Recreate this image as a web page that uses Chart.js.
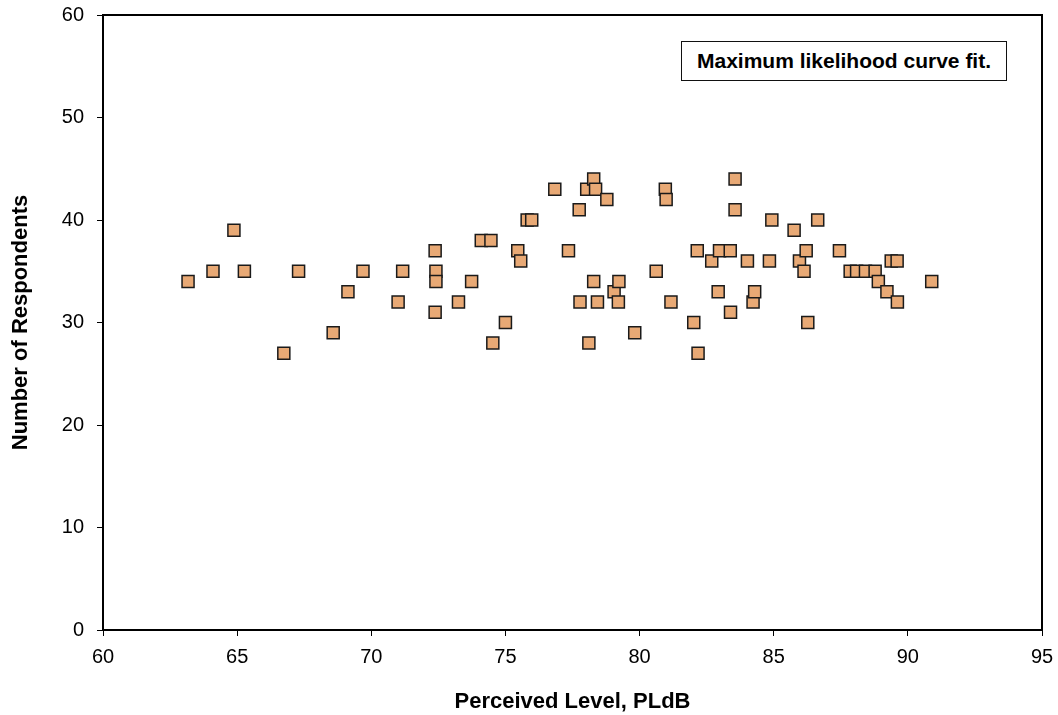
<!DOCTYPE html>
<html>
<head>
<meta charset="utf-8">
<script src="https://cdn.jsdelivr.net/npm/chart.js@4.4.1/dist/chart.umd.min.js"></script>
<style>
  html, body { margin: 0; padding: 0; background: #fff; }
  #wrap { position: relative; width: 1058px; height: 715px; }
  #nota {
    position: absolute; left: 681px; top: 41px; width: 324px; height: 38px;
    border: 1.5px solid #111; background: #fff;
    font: bold 21px "Liberation Sans", Arial, sans-serif; color: #000;
    display: flex; align-items: center; justify-content: center;
  }
</style>
</head>
<body>
<div id="wrap">
  <canvas id="grafica" width="1058" height="715"></canvas>
  <div id="nota">Maximum likelihood curve fit.</div>
</div>
<script>
// nivel percibido (PLdB) y numero de encuestados por punto
var nivelPLdB = [
  63.17, 64.10, 64.88, 65.27, 66.74, 67.29, 68.58, 69.13, 69.69, 71.00,
  71.17, 72.38, 72.41, 72.41, 72.38, 73.25, 73.74, 74.10, 74.46, 74.53,
  75.00, 75.46, 75.57, 75.81, 75.98, 76.84, 77.35, 77.75, 77.78, 78.03,
  78.11, 78.29, 78.36, 78.29, 78.43, 78.78, 79.05, 79.23, 79.21, 79.82,
  80.62, 80.96, 80.99, 81.17, 82.02, 82.15, 82.18, 82.69, 82.93, 82.98,
  83.38, 83.39, 83.56, 83.56, 84.02, 84.23, 84.29, 84.84, 84.93, 85.76,
  85.96, 86.13, 86.21, 86.27, 86.64, 87.45, 87.85, 88.09, 88.42, 88.78,
  88.90, 89.22, 89.38, 89.60, 89.61, 90.89
];
var encuestados = [
  34, 35, 39, 35, 27, 35, 29, 33, 35, 32,
  35, 37, 35, 34, 31, 32, 34, 38, 38, 28,
  30, 37, 36, 40, 40, 43, 37, 41, 32, 43,
  28, 44, 43, 34, 32, 42, 33, 34, 32, 29,
  35, 43, 42, 32, 30, 37, 27, 36, 33, 37,
  37, 31, 44, 41, 36, 32, 33, 36, 40, 39,
  36, 35, 37, 30, 40, 37, 35, 35, 35, 35,
  34, 33, 36, 36, 32, 34
];
var ticksX = [60, 65, 70, 75, 80, 85, 90, 95];
var ticksY = [0, 10, 20, 30, 40, 50, 60];

var puntos = nivelPLdB.map(function (x, i) {
  return { x: x, y: encuestados[i] };
});

var fuente = '"Liberation Sans", Arial, sans-serif';

// marco negro alrededor del area de la grafica
var marco = {
  id: 'marco',
  afterDatasetsDraw: function (chart) {
    var a = chart.chartArea;
    var ctx = chart.ctx;
    ctx.save();
    ctx.strokeStyle = '#000';
    ctx.lineWidth = 2;
    ctx.strokeRect(a.left, a.top, a.right - a.left, a.bottom - a.top);
    ctx.restore();
  }
};

var ctx = document.getElementById('grafica').getContext('2d');
var grafica = new Chart(ctx, {
  type: 'scatter',
  data: {
    datasets: [{
      data: puntos,
      pointStyle: 'rect',
      pointRadius: 8.5,
      pointHoverRadius: 8.5,
      backgroundColor: '#e8a975',
      borderColor: '#1a1a1a',
      borderWidth: 1.5
    }]
  },
  plugins: [marco],
  options: {
    responsive: false,
    animation: false,
    layout: { padding: { top: 15, right: 16, left: 0, bottom: 0 } },
    plugins: {
      legend: { display: false },
      tooltip: { enabled: false }
    },
    scales: {
      x: {
        type: 'linear',
        min: 60, max: 95,
        afterBuildTicks: function (s) { s.ticks = ticksX.map(function (v) { return { value: v }; }); },
        afterFit: function (s) { s.height = 85; s.paddingLeft = 0; s.paddingRight = 0; },
        grid: { drawOnChartArea: false, tickLength: 6, color: '#000', lineWidth: 1 },
        border: { color: '#000', width: 2 },
        ticks: { color: '#000', font: { family: fuente, size: 20 }, padding: 9 },
        title: {
          display: true, text: 'Perceived Level, PLdB', color: '#000',
          font: { family: fuente, size: 22, weight: 'bold' }, padding: { top: 20, bottom: 0 }
        }
      },
      y: {
        min: 0, max: 60,
        afterBuildTicks: function (s) { s.ticks = ticksY.map(function (v) { return { value: v }; }); },
        afterFit: function (s) { s.width = 103; s.paddingTop = 0; s.paddingBottom = 0; },
        grid: { drawOnChartArea: false, tickLength: 6, color: '#000', lineWidth: 1 },
        border: { color: '#000', width: 2 },
        ticks: { color: '#000', font: { family: fuente, size: 20 }, padding: 13 },
        title: {
          display: true, text: 'Number of Respondents', color: '#000',
          font: { family: fuente, size: 22, weight: 'bold' }, padding: { top: 8 }
        }
      }
    }
  }
});
</script>
</body>
</html>
